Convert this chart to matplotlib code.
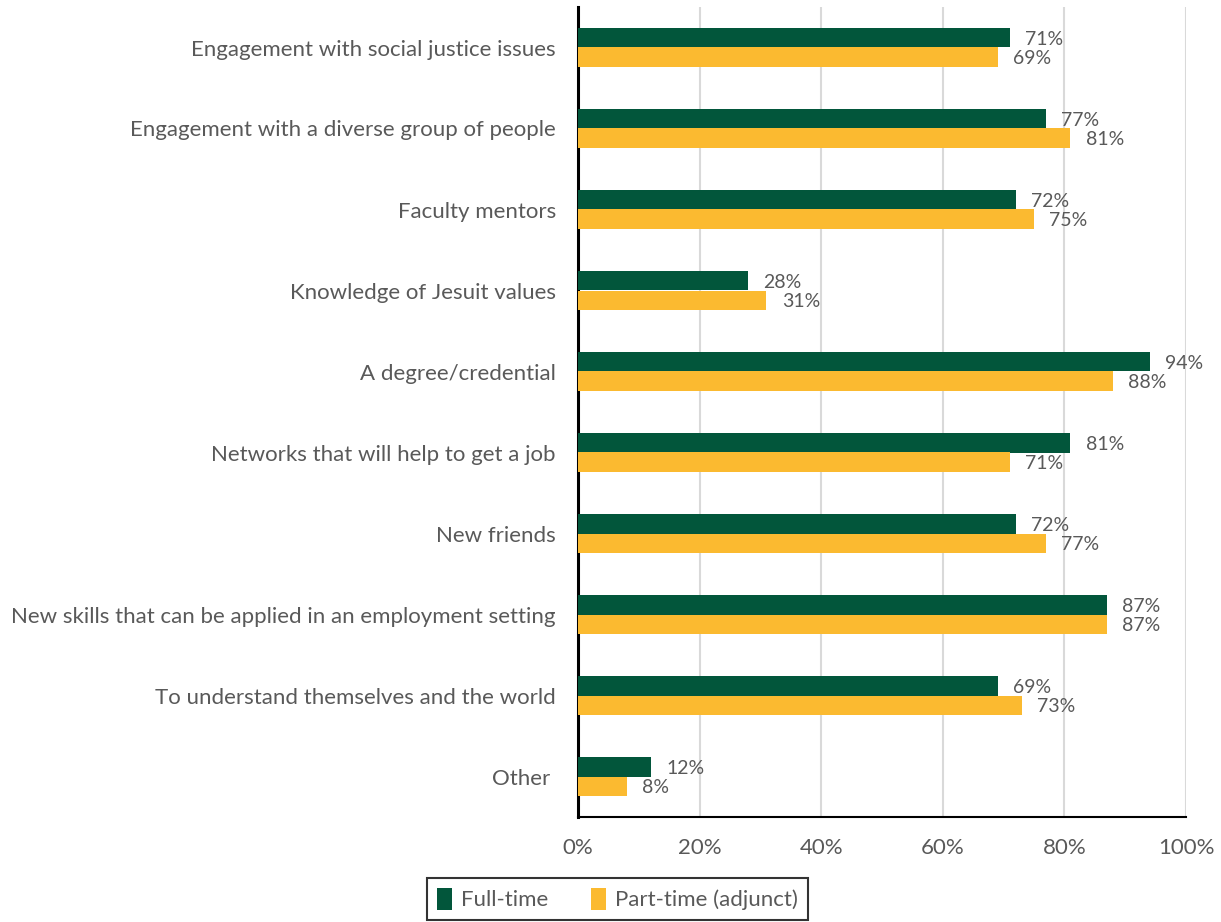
import matplotlib
matplotlib.use("Agg")
import matplotlib.pyplot as plt
import numpy as np
from matplotlib.patches import Patch

categories = [
    "Engagement with social justice issues",
    "Engagement with a diverse group of people",
    "Faculty mentors",
    "Knowledge of Jesuit values",
    "A degree/credential",
    "Networks that will help to get a job",
    "New friends",
    "New skills that can be applied in an employment setting",
    "To understand themselves and the world",
    "Other ",
]
full_time = [71, 77, 72, 28, 94, 81, 72, 87, 69, 12]
part_time = [69, 81, 75, 31, 88, 71, 77, 87, 73, 8]
series_names = ["Full-time", "Part-time (adjunct)"]
x_ticks = [0, 20, 40, 60, 80, 100]

GREEN = "#02563B"
GOLD = "#FBBA30"
TEXT = "#595959"
FONT = "Lato"
FS = 14

W, H = 1221, 922
fig = plt.figure(figsize=(W / 100, H / 100), dpi=100)
ax = fig.add_axes([578 / W, 1 - 817 / H, 608 / W, 810 / H])

n = len(categories)
y = np.arange(n)
bh = 0.235
ax.barh(y - bh / 2, full_time, height=bh, color=GREEN, zorder=3)
ax.barh(y + bh / 2, part_time, height=bh, color=GOLD, zorder=3)

ax.set_ylim(n - 0.5, -0.5)
ax.set_xlim(0, 100)

# value labels just past the end of each bar
for i in range(n):
    for vals, off in ((full_time, -bh / 2), (part_time, bh / 2)):
        v = vals[i]
        ax.annotate(f"{v}%", xy=(v, y[i] + off), xytext=(11, -1),
                    textcoords="offset points", va="center", ha="left",
                    fontsize=FS, family=FONT, color=TEXT)

ax.set_yticks(y)
ax.set_yticklabels(categories, fontsize=FS + 2, family=FONT, color=TEXT)
ax.tick_params(axis="y", length=0, pad=16)
ax.set_xticks(x_ticks)
ax.set_xticklabels([f"{t}%" for t in x_ticks], fontsize=FS + 2, family=FONT, color=TEXT)
ax.tick_params(axis="x", length=0, pad=15)

ax.grid(axis="x", color="#D9D9D9", linewidth=1.5, zorder=0)
for s in ("top", "right"):
    ax.spines[s].set_visible(False)
ax.spines["left"].set_color("black")
ax.spines["left"].set_linewidth(2.2)
ax.spines["bottom"].set_color("black")
ax.spines["bottom"].set_linewidth(1.5)

handles = [Patch(facecolor=GREEN), Patch(facecolor=GOLD)]
leg = fig.legend(handles, series_names, loc="center",
                 bbox_to_anchor=(617.5 / W, 1 - 899 / H), ncol=2,
                 frameon=True, fancybox=False, handlelength=0.7, handleheight=1.2,
                 handletextpad=0.4, columnspacing=1.9, borderpad=0.45,
                 borderaxespad=0, prop={"family": FONT, "size": FS + 2})
leg.get_frame().set_edgecolor("black")
leg.get_frame().set_linewidth(1.5)
for t in leg.get_texts():
    t.set_color(TEXT)

fig.savefig("out.png", dpi=100)
